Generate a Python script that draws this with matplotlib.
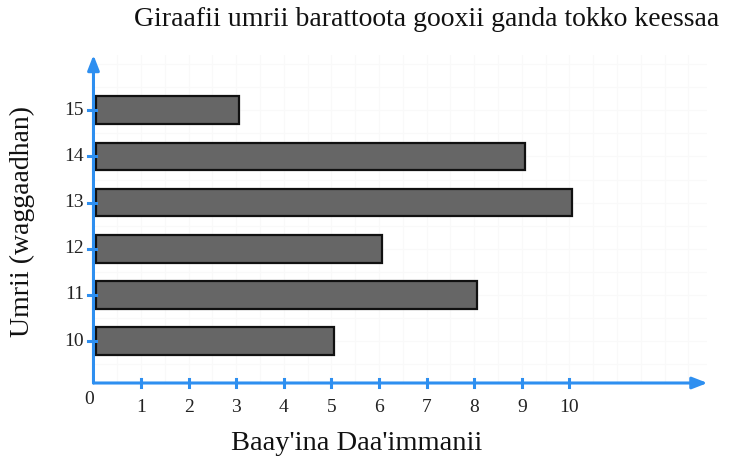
import numpy as np
import matplotlib.pyplot as plt

# Ages of the students and how many students have each age
ages = [10, 11, 12, 13, 14, 15]
counts = [5, 8, 6, 10, 9, 3]
x_ticks = [1, 2, 3, 4, 5, 6, 7, 8, 9, 10]

title = "Giraafii umrii barattoota gooxii ganda tokko keessaa"
x_label = "Baay'ina Daa'immanii"
y_label = "Umrii (waggaadhan)"

axis_blue = "#2e8ff0"
serif = ["Liberation Serif", "DejaVu Serif"]

fig = plt.figure(figsize=(7.32, 4.62), dpi=100)
ax = fig.add_axes([0.1277, 0.171, 0.8388, 0.710])
ax.set_xlim(0, 12.9)
ax.set_ylim(9.09, 16.2)

# faint background grid
for gx in np.arange(0.5, 12.6, 0.5):
    ax.axvline(gx, color="#f9f9f9", lw=0.8, zorder=0)
for gy in np.arange(9.5, 16.1, 0.5):
    ax.axhline(gy, color="#f9f9f9", lw=0.8, zorder=0)

ax.barh(ages, counts, height=0.6, left=0.06, color="#666666",
        edgecolor="#111111", linewidth=1.6, zorder=2)

# axes drawn as arrows
ax.annotate("", xy=(12.9, 9.09), xytext=(0, 9.09),
            arrowprops=dict(arrowstyle="-|>,head_length=0.9,head_width=0.35",
                            color=axis_blue, lw=2.2, shrinkA=0, shrinkB=0),
            zorder=3, annotation_clip=False)
ax.annotate("", xy=(0, 16.2), xytext=(0, 9.09),
            arrowprops=dict(arrowstyle="-|>,head_length=0.9,head_width=0.35",
                            color=axis_blue, lw=2.2, shrinkA=0, shrinkB=0),
            zorder=3, annotation_clip=False)

# small tick marks crossing the axes
for t in x_ticks:
    ax.plot([t, t], [9.09 - 0.09, 9.09 + 0.09], color=axis_blue, lw=2.2,
            zorder=3, clip_on=False)
    ax.text(t, 8.56, str(t), ha="center", va="center", fontsize=14,
            family=serif, color="#222222")
for a in ages:
    ax.plot([-0.12, 0.06], [a, a], color=axis_blue, lw=2.2, zorder=3,
            clip_on=False)
    ax.text(-0.2, a, str(a), ha="right", va="center", fontsize=14,
            family=serif, color="#222222")
ax.text(-0.1, 8.73, "0", ha="center", va="center", fontsize=14,
        family=serif, color="#222222")

ax.set_xticks([])
ax.set_yticks([])
for s in ax.spines.values():
    s.set_visible(False)

fig.text(0.583, 0.957, title, ha="center", va="center", fontsize=20,
         family=serif, color="#111111")
fig.text(0.487, 0.041, x_label, ha="center", va="center", fontsize=20.5,
         family=serif, color="#111111")
fig.text(0.030, 0.52, y_label, ha="center", va="center", fontsize=20,
         rotation=90, family=serif, color="#111111")

fig.savefig("out.png", dpi=100)
